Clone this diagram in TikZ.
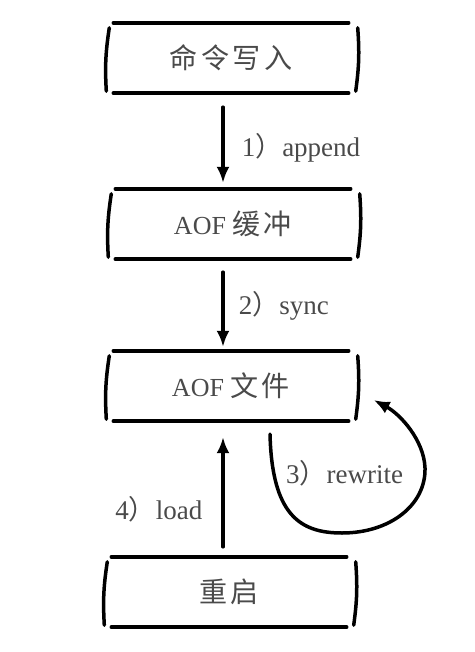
\documentclass[tikz,border=0pt]{standalone}
\usepackage{fontspec}
\setmainfont{Liberation Serif}
\newfontfamily\cjk[LetterSpace=12,Scale=1.08]{Noto Sans CJK SC}
\newfontfamily\cjkparen{Noto Sans CJK SC}
\usetikzlibrary{arrows.meta}
\definecolor{inkgray}{HTML}{4A4A4A}
\tikzset{
  stepbox/.style={minimum width=247pt,minimum height=70pt,inner sep=0pt,
    text=inkgray,font=\fontsize{26}{28}\selectfont},
  pen/.style={line width=3.5pt,line cap=round},
  flow/.style={pen,-{Latex[length=16pt,width=13pt]}},
  lbl/.style={text=inkgray,font=\fontsize{27}{29}\selectfont,inner sep=0pt}
}

\begin{document}
\begin{tikzpicture}[x=1pt,y=-1pt]
  \useasboundingbox (0,0) rectangle (474,652);

  \node[stepbox] (cmd) at (231,58) {\cjk 命令写入};
  \node[stepbox] (buf) at (233,224) {AOF \cjk 缓冲};
  \node[stepbox] (file) at (231,386) {AOF \cjk 文件};
  \node[stepbox] (boot) at (229,592) {\cjk 重启};

  % sketchy frames
  \foreach \n in {cmd,buf,file,boot}{
    \draw[pen] ([xshift=6pt]\n.north west) -- ([xshift=-6pt]\n.north east);
    \draw[pen] ([xshift=6pt]\n.south west) -- ([xshift=-6pt]\n.south east);
    \draw[pen] ([shift={(2,5)}]\n.north west) to[bend right=6]
      ([shift={(-1,-2)}]\n.south west);
    \draw[pen] ([shift={(3,5)}]\n.north east) to[bend left=6]
      ([shift={(1,-2)}]\n.south east);
  }

  \draw[flow] ([xshift=-8pt,yshift=-14pt]cmd.south)
    -- ([xshift=-10pt,yshift=6pt]buf.north)
    node[lbl,midway,right=17pt,yshift=-3pt] (l1) {1{\cjkparen ）}append};
  \draw[flow] ([xshift=-10pt,yshift=-13pt]buf.south)
    -- ([xshift=-8pt,yshift=4pt]file.north)
    node[lbl,midway,right=14pt,yshift=4pt] (l2) {2{\cjkparen ）}sync};
  \draw[flow] ([xshift=-6pt,yshift=10pt]boot.north)
    -- ([xshift=-8pt,yshift=-16pt]file.south)
    node[lbl,pos=0.34,left=19pt] (l4) {4{\cjkparen ）}load};
  \draw[flow] ([xshift=39pt,yshift=-13pt]file.south)
    .. controls (272,515) and (300,533) .. (342,533)
    .. controls (390,533) and (426,505) .. (425,468)
    .. controls (424,440) and (400,414) .. ([xshift=19pt,yshift=-14pt]file.east);
  \node[lbl,anchor=west] (l3) at (286,473) {3{\cjkparen ）}rewrite};
\end{tikzpicture}
\end{document}
